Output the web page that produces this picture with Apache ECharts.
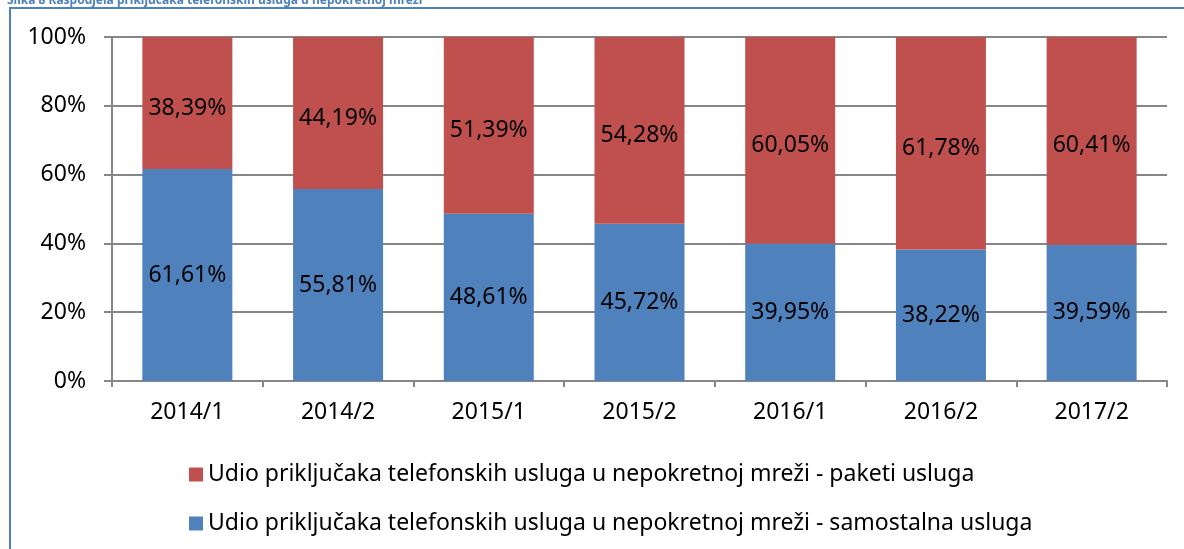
<!DOCTYPE html>
<html>
<head>
<meta charset="utf-8">
<script src="https://cdn.jsdelivr.net/npm/echarts@6/dist/echarts.min.js"></script>
</head>
<body style="margin:0;background:#fff">
<div id="main" style="width:1184px;height:549px"></div>
<script>
// periodi
var categories = ['2014/1', '2014/2', '2015/1', '2015/2', '2016/1', '2016/2', '2017/2'];
// udio u %
var samostalna = [61.61, 55.81, 48.61, 45.72, 39.95, 38.22, 39.59];
var paketi = [38.39, 44.19, 51.39, 54.28, 60.05, 61.78, 60.41];
var yTicks = [0, 20, 40, 60, 80, 100];

var nameSam = 'Udio priključaka telefonskih usluga u nepokretnoj mreži - samostalna usluga';
var namePak = 'Udio priključaka telefonskih usluga u nepokretnoj mreži - paketi usluga';
var font = 'Noto Sans';
var fs = 23;

function fmt(p) {
    return p.value.toFixed(2).replace('.', ',') + '%';
}

var chart = echarts.init(document.getElementById('main'));

var option = {
    animation: false,
    textStyle: { fontFamily: font },
    title: {
        text: 'Slika 8 Raspodjela priključaka telefonskih usluga u nepokretnoj mreži',
        left: 2,
        top: -10,
        textStyle: { color: '#4F81BD', fontSize: 12, fontWeight: 'bold', fontFamily: font }
    },
    graphic: [{
        type: 'rect',
        shape: { x: 10, y: 8, width: 1200, height: 600 },
        style: { fill: 'none', stroke: '#4F81BD', lineWidth: 2 },
        silent: true
    }],
    grid: { left: 112, right: 17, top: 37, bottom: 168 },
    legend: {
        orient: 'vertical',
        left: 184,
        top: 458,
        itemGap: 26,
        itemWidth: 14,
        itemHeight: 14,
        icon: 'rect',
        data: [namePak, nameSam],
        textStyle: { fontSize: fs, color: '#000', fontFamily: font }
    },
    xAxis: {
        type: 'category',
        data: categories,
        axisLine: { lineStyle: { color: '#868686', width: 2 } },
        axisTick: { show: true, length: 6, lineStyle: { color: '#868686', width: 2 } },
        axisLabel: { color: '#000', fontSize: fs, margin: 20 }
    },
    yAxis: {
        type: 'value',
        min: 0,
        max: 100,
        interval: 20,
        axisLine: { show: true, lineStyle: { color: '#868686', width: 2 } },
        axisTick: { show: true, length: 8, lineStyle: { color: '#868686', width: 2 } },
        axisLabel: {
            color: '#000', fontSize: fs, margin: 26,
            formatter: function (v) { return yTicks.indexOf(v) >= 0 ? v + '%' : ''; }
        },
        splitLine: { lineStyle: { color: '#868686', width: 2 } }
    },
    series: [{
        name: nameSam,
        type: 'bar',
        stack: 'a',
        data: samostalna,
        barWidth: 90,
        itemStyle: { color: '#4F81BD' },
        label: { show: true, position: 'inside', color: '#000', fontSize: fs, formatter: fmt }
    }, {
        name: namePak,
        type: 'bar',
        stack: 'a',
        data: paketi,
        barWidth: 90,
        itemStyle: { color: '#C0504D' },
        label: { show: true, position: 'inside', color: '#000', fontSize: fs, formatter: fmt, offset: [0, 5] }
    }]
};

chart.setOption(option);
</script>
</body>
</html>
